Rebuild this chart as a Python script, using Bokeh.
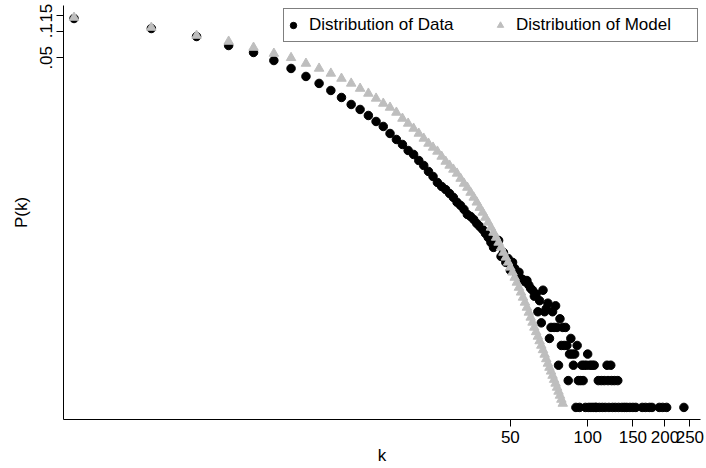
from bokeh.plotting import figure
from bokeh.models import FixedTicker, Legend, LegendItem, Range1d
from bokeh.embed import file_html
from bokeh.resources import INLINE

# ---------------- data ----------------
data_k = [1, 2, 3, 4, 5, 6, 7, 8, 9, 10, 11, 12, 13, 14, 15, 16, 17, 18, 19, 20,
          21, 22, 23, 24, 25, 26, 27, 28, 29, 30, 31, 32, 33, 34, 35, 36, 37, 38, 39, 40,
          41, 42, 43, 44, 45, 46, 47, 48, 49, 50, 51, 52, 53, 54, 55, 56, 57,
          58, 59, 60, 61, 62, 63, 64, 65, 66, 67, 68, 69, 70, 71, 72, 73, 74, 75, 76, 77,
          78, 79, 80, 81, 82, 83, 84, 85, 86, 87, 88, 89, 90, 91, 92, 93, 94, 95, 96, 97,
          98, 99, 100, 101, 102, 103, 104, 105, 106, 107, 108, 110, 111, 113, 114, 116, 117,
          119, 120, 121, 123, 124, 125, 127, 128, 131, 132, 136, 139, 142, 146, 150, 154,
          163, 168, 174, 178, 190, 196, 203, 237]
data_p = [0.1388, 0.1070, 0.0869, 0.0688, 0.0574, 0.0466, 0.0379, 0.0308, 0.0257, 0.0214,
          0.01783, 0.01487, 0.01306, 0.01117, 0.00956, 0.0084, 0.0070, 0.00599, 0.00526, 0.00450,
          0.00406, 0.00347, 0.00305, 0.00261, 0.00229, 0.00196, 0.00177, 0.00163, 0.00147, 0.00133,
          0.00117, 0.00108, 0.000973, 0.000854, 0.000811, 0.000750, 0.000676, 0.000625, 0.000578, 0.000521,
          0.000470, 0.000413, 0.000363, 0.000392, 0.000435, 0.000287, 0.000318, 0.000246, 0.000272, 0.000200,
          0.000246, 0.000210, 0.000180, 0.000190, 0.000162, 0.000157, 0.000149,
          1.534e-4, 1.363e-4, 1.250e-4, 1.193e-4, 1.022e-4, 1.079e-4, 6.82e-5, 9.09e-5, 5.11e-5, 1.193e-4,
          6.82e-5, 7.38e-5, 8.52e-5, 3.41e-5, 4.54e-5, 6.82e-5, 4.54e-5, 7.95e-5, 4.54e-5, 1.70e-5,
          5.68e-5, 2.84e-5, 4.54e-5, 2.84e-5, 4.54e-5, 2.84e-5, 1.14e-5, 2.27e-5, 3.41e-5, 2.27e-5,
          1.70e-5, 2.27e-5, 5.68e-6, 2.84e-5, 1.14e-5, 5.68e-6, 1.14e-5, 1.70e-5, 1.14e-5, 1.70e-5,
          5.68e-6, 1.70e-5, 2.27e-5, 5.68e-6, 1.70e-5, 5.68e-6, 1.70e-5, 5.68e-6, 1.70e-5, 5.68e-6,
          5.68e-6, 1.14e-5, 5.68e-6, 1.14e-5, 5.68e-6, 1.14e-5, 5.68e-6,
          1.70e-5, 1.14e-5, 5.68e-6, 1.70e-5, 1.14e-5, 5.68e-6, 1.14e-5, 5.68e-6, 1.14e-5, 5.68e-6,
          5.68e-6, 5.68e-6, 5.68e-6, 5.68e-6, 5.68e-6, 5.68e-6,
          5.68e-6, 5.68e-6, 5.68e-6, 5.68e-6, 5.68e-6, 5.68e-6, 5.68e-6, 5.68e-6]

model_k = [1, 2, 3, 4, 5, 6, 7, 8, 9, 10, 11, 12, 13, 14, 15, 16, 17, 18, 19, 20,
           21, 22, 23, 24, 25, 26, 27, 28, 29, 30, 31, 32, 33, 34, 35, 36, 37, 38, 39, 40,
           41, 42, 43, 44, 45, 46, 47, 48, 49, 50, 51, 52, 53, 54, 55, 56, 57, 58, 59, 60,
           61, 62, 63, 64, 65, 66, 67, 68, 69, 70, 71, 72, 73, 74, 75, 76, 77, 78, 79, 80]
model_p = [0.1424, 0.1098, 0.0892, 0.0764, 0.0653, 0.0559, 0.0500, 0.0431, 0.0379, 0.0333,
           0.0292, 0.0257, 0.0225, 0.0198, 0.0174, 0.01526, 0.01375, 0.01208, 0.01033, 0.00908,
           0.00797, 0.00700, 0.00615, 0.00540, 0.00487, 0.00439, 0.00385, 0.00338, 0.00305, 0.00275,
           0.00248, 0.00217, 0.00191, 0.00172, 0.00151, 0.00133, 0.00117, 0.00102, 0.000900, 0.000790,
           0.000694, 0.000610, 0.000535, 0.000470, 0.000413, 0.000363, 0.000318, 0.000280, 0.000246, 0.000216,
           0.000190, 0.000166, 0.000146, 0.000128, 0.000113, 9.90e-5, 8.69e-5, 7.62e-5, 6.70e-5, 5.89e-5,
           5.17e-5, 4.54e-5, 4.04e-5, 3.59e-5, 3.19e-5, 2.84e-5, 2.53e-5, 2.25e-5, 2.00e-5, 1.78e-5,
           1.60e-5, 1.45e-5, 1.30e-5, 1.17e-5, 1.06e-5, 9.54e-6, 8.60e-6, 7.75e-6, 6.98e-6, 6.29e-6]

x_ticks = [50, 100, 150, 200, 250]
x_tick_labels = ["50", "100", "150", "200", "250"]
y_ticks = [0.05, 0.1, 0.15]
y_tick_labels = [".05", ".1", ".15"]
series_labels = ["Distribution of Data", "Distribution of Model"]

FONT = "Liberation Sans"

p = figure(width=706, height=468, x_axis_type="log", y_axis_type="log",
           x_range=Range1d(0.91, 275), y_range=Range1d(4.15e-6, 0.1945),
           output_backend="svg", toolbar_location=None,
           min_border_left=63, min_border_right=6, min_border_top=5, min_border_bottom=49)
p.xgrid.visible = False
p.ygrid.visible = False
p.outline_line_color = None
p.background_fill_color = "white"
p.border_fill_color = "white"

for ax in (p.xaxis[0], p.yaxis[0]):
    ax.axis_line_color = "black"
    ax.axis_line_width = 1
    ax.major_tick_line_color = "black"
    ax.major_tick_in = 0
    ax.major_tick_out = 7
    ax.minor_tick_line_color = None
    ax.major_label_text_font = FONT
    ax.major_label_text_font_size = "17px"
    ax.major_label_text_color = "black"
    ax.axis_label_text_font = FONT
    ax.axis_label_text_font_size = "17px"
    ax.axis_label_text_font_style = "normal"
    ax.axis_label_text_color = "black"

p.xaxis.ticker = FixedTicker(ticks=x_ticks)
p.xaxis.major_label_overrides = dict(zip(x_ticks, x_tick_labels))
p.xaxis.axis_label = "k"
p.xaxis.major_label_standoff = 4
p.xaxis.axis_label_standoff = 0

p.yaxis.ticker = FixedTicker(ticks=y_ticks)
p.yaxis.major_label_overrides = dict(zip(y_ticks, y_tick_labels))
p.yaxis.major_label_orientation = "vertical"
p.yaxis.axis_label = "P(k)"
p.yaxis.major_label_standoff = 4
p.yaxis.axis_label_standoff = 7

r_data = p.scatter(data_k, data_p, marker="circle", size=8.5, color="black")
r_model = p.scatter(model_k, model_p, marker="triangle", size=9.5, color="#BEBEBE")

legend = Legend(items=[LegendItem(label=series_labels[0], renderers=[r_data]),
                       LegendItem(label=series_labels[1], renderers=[r_model])],
                orientation="horizontal", location=(220, 377), margin=0,
                padding=1, spacing=3, glyph_width=16, glyph_height=30,
                label_standoff=8, label_width=180, label_height=30,
                label_text_font=FONT, label_text_font_size="17px", label_text_color="black",
                border_line_color="black", border_line_width=1,
                background_fill_color="white", background_fill_alpha=1.0)
p.add_layout(legend)

open("out.html", "w").write(file_html(p, INLINE))
